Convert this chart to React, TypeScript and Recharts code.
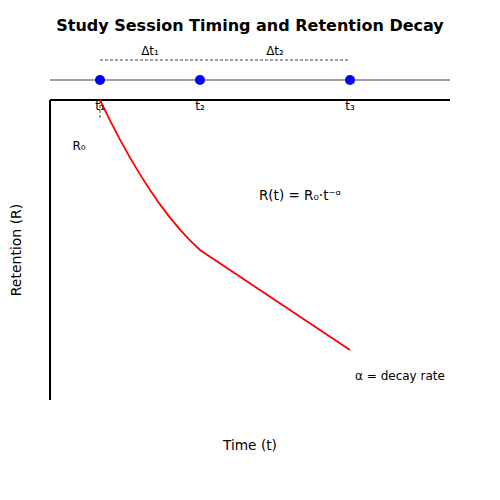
import React from 'react';
import { ComposedChart, Scatter, XAxis, YAxis, ReferenceDot } from 'recharts';

const curveX = [1, 1.2, 1.4, 1.6, 1.8, 2.0, 2.2, 2.4, 2.6, 2.8, 3, 6];
const curveY = [1, 0.932, 0.868, 0.808, 0.752, 0.7, 0.652, 0.608, 0.568, 0.532, 0.5, 0.1667];
const sessionX = [1, 3, 6];
const sessionLabels = ['t₁', 't₂', 't₃'];
const timelineY = 1.0667;
const gapLabels = ['Δt₁', 'Δt₂'];
const gapLabelX = [2, 4.5];

const curveData = curveX.map((x, i) => ({ x, y: curveY[i] }));
const sessionData = sessionX.map((x) => ({ x, y: timelineY }));
const timelineData = [{ x: 0, y: timelineY }, { x: 8, y: timelineY }];
const gapData = [{ x: 1, y: 1.1333 }, { x: 6, y: 1.1333 }];
const r0Tick = [{ x: 1, y: 1 }, { x: 1, y: 0.933 }];
const leftAxis = [{ x: 0, y: 0 }, { x: 0, y: 1 }];
const topAxis = [{ x: 0, y: 1 }, { x: 8, y: 1 }];

const FONT = 'DejaVu Sans, sans-serif';

const noShape = () => <g />;

const seg = (data: any[], stroke: string, width: number, dash?: string) => (
  <Scatter
    data={data}
    shape={noShape}
    line={{ stroke, strokeWidth: width, strokeDasharray: dash, fill: 'none' }}
    lineType="joint"
    isAnimationActive={false}
  />
);

const lbl = (value: string, x: number, y: number, fontSize: number, extra: any = {}) => (
  <ReferenceDot
    key={value + x + y}
    x={x}
    y={y}
    r={0}
    ifOverflow="visible"
    label={{ value, position: 'center', fontSize, fill: '#000', fontFamily: FONT, ...extra }}
  />
);

export default function App() {
  return (
    <div style={{ position: 'absolute', left: 0, top: 0, width: 500, height: 500, background: '#fff' }}>
      <ComposedChart width={500} height={500} margin={{ top: 0, right: 0, bottom: 0, left: 0 }}>
        <XAxis type="number" dataKey="x" domain={[-1, 9]} hide allowDataOverflow />
        <YAxis type="number" dataKey="y" domain={[-1 / 3, 4 / 3]} hide allowDataOverflow />
        {seg(timelineData, '#808080', 1.5)}
        {seg(gapData, '#808080', 1.5, '3 2')}
        {seg(r0Tick, '#808080', 1.5, '3 2')}
        {seg(leftAxis, '#000', 2)}
        {seg(topAxis, '#000', 2)}
        {seg(curveData, 'red', 1.8)}
        <Scatter
          data={sessionData}
          shape={(p: any) => <circle cx={p.cx} cy={p.cy} r={5} fill="blue" />}
          isAnimationActive={false}
        />
        {lbl('Study Session Timing and Retention Decay', 4, 1.25, 16, { fontWeight: 'bold' })}
        {sessionX.map((x, i) => lbl(sessionLabels[i], x, 0.98, 12))}
        {gapLabelX.map((x, i) => lbl(gapLabels[i], x, 1.163, 12))}
        {lbl('R₀', 0.58, 0.847, 12)}
        {lbl('R(t) = R₀·t⁻ᵅ', 5, 0.683, 13.5)}
        {lbl('α = decay rate', 7, 0.08, 12)}
        {lbl('Time (t)', 4, -0.15, 13.7)}
        {lbl('Retention (R)', -0.68, 0.5, 14, { angle: -90 })}
      </ComposedChart>
    </div>
  );
}
